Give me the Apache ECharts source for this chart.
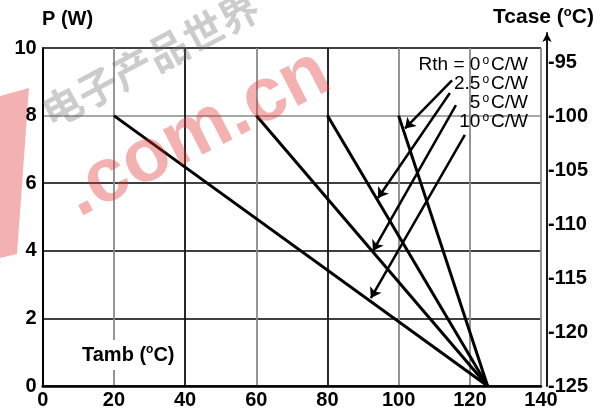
<!DOCTYPE html>
<html>
<head>
<meta charset="utf-8">
<script src="https://cdn.jsdelivr.net/npm/echarts@6/dist/echarts.min.js"></script>
<style>html,body{margin:0;padding:0;background:#fff}#c{width:604px;height:414px}</style>
</head>
<body>
<div id="c"></div>
<script>
// ---- data ----
const rthValues = ['0', '2.5', '5', '10'];
const startTamb = [100, 80, 60, 20];
const startPower = [8, 8, 8, 8];
const endTamb = [125, 125, 125, 125];
const endPower = [0, 0, 0, 0];
const tambTicks = [0, 20, 40, 60, 80, 100, 120, 140];
const powerTicks = [0, 2, 4, 6, 8, 10];
const tcaseTicks = [-125, -120, -115, -110, -105, -100, -95];
// annotation arrows (label -> curve), in data coords [Tamb, P]
const arrowFrom = [[115, 9.04], [114.4, 8.67], [116.1, 8.31], [118.6, 7.43]];
const arrowTo = [[101.8, 7.62], [94.2, 5.56], [92.8, 4.0], [92.2, 2.6]];

const FONT = 'Liberation Sans, Arial, sans-serif';
const chart = echarts.init(document.getElementById('c'), null, {renderer: 'canvas'});

const series = rthValues.map((r, i) => ({
  name: r + ' °C/W',
  type: 'line',
  xAxisIndex: 0, yAxisIndex: 0,
  data: [[startTamb[i], startPower[i]], [endTamb[i], endPower[i]]],
  symbol: 'none',
  lineStyle: {color: '#000', width: 3},
  z: 3,
  silent: true
}));
series.push({
  type: 'line', xAxisIndex: 0, yAxisIndex: 0, data: [], symbol: 'none', silent: true,
  markLine: {
    silent: true,
    symbol: ['none', 'arrow'],
    symbolSize: 10,
    label: {show: false},
    emphasis: {disabled: true},
    lineStyle: {color: '#000', width: 2.5, type: 'solid'},
    data: arrowFrom.map((f, i) => [{coord: f}, {coord: arrowTo[i]}])
  },
  z: 4
});

const richLbl = {
  n: {fontFamily: FONT, fontSize: 19, color: '#000', lineHeight: 20},
  s: {fontFamily: FONT, fontSize: 12, color: '#000', lineHeight: 20, verticalAlign: 'top', padding: [0, 2, 0, 2]}
};
const labelY = [65, 84, 103, 122];
const labelTexts = rthValues.map((r, i) => (i === 0 ? '{n|Rth = ' + r + '}{s|o}{n|C/W}' : '{n|' + r + '}{s|o}{n|C/W}'));

const graphics = labelTexts.map((t, i) => ({
  type: 'text', right: 604 - 528, top: labelY[i] - 10, z: 10,
  style: {text: t, rich: richLbl, textAlign: 'right'}
}));

graphics.push(
  {type: 'text', left: 42, top: 9, z: 10,
   style: {text: 'P (W)', fontFamily: FONT, fontSize: 20, fontWeight: 'bold', fill: '#000'}},
  {type: 'text', left: 493, top: 6, z: 10,
   style: {text: '{b|Tcase (}{s|o}{b|C)}',
     rich: {b: {fontFamily: FONT, fontSize: 21, fontWeight: 'bold', color: '#000', lineHeight: 23},
            s: {fontFamily: FONT, fontSize: 13, fontWeight: 'bold', color: '#000', lineHeight: 23, verticalAlign: 'top'}}}},
  {type: 'text', left: 78, top: 340, z: 10,
   style: {text: '{b|Tamb (}{s|o}{b|C)}', backgroundColor: '#fff', padding: [4, 4, 4, 4],
     rich: {b: {fontFamily: FONT, fontSize: 20, fontWeight: 'bold', color: '#000', lineHeight: 22},
            s: {fontFamily: FONT, fontSize: 12, fontWeight: 'bold', color: '#000', lineHeight: 22, verticalAlign: 'top'}}}}
);

// watermark overlay
graphics.push(
  {type: 'polygon', z: 20, silent: true,
   shape: {points: [[0, 96], [29, 88], [17, 254], [0, 258]]},
   style: {fill: 'rgba(225,50,50,0.38)'}},
  {type: 'text', x: 52, y: 165, rotation: 27 * Math.PI / 180, z: 20, silent: true,
   style: {text: '.com.cn', fontFamily: FONT, fontSize: 76, fontWeight: 'bold', fill: 'rgba(225,50,50,0.38)'}},
  {type: 'text', x: 35, y: 98, rotation: 28 * Math.PI / 180, z: 20, silent: true,
   style: {text: '电子产品世界', fontFamily: 'Noto Sans CJK SC', fontSize: 40, fontWeight: 'bold', fill: 'rgba(110,110,110,0.35)'}}
);

const option = {
  animation: false,
  backgroundColor: '#fff',
  grid: [
    {left: 42.7, right: 63, top: 48, bottom: 28, containLabel: false},
    {left: 42.7, right: 57, top: 33, bottom: 28, containLabel: false}
  ],
  xAxis: [
    {gridIndex: 0, type: 'value', min: tambTicks[0], max: tambTicks[tambTicks.length - 1], interval: 20,
     axisLine: {show: true, onZero: false, lineStyle: {color: '#000', width: 2.5}},
     axisTick: {show: false},
     axisLabel: {color: '#000', fontFamily: FONT, fontSize: 20, fontWeight: 'bold', margin: 4},
     splitLine: {show: true, lineStyle: {color: ['#000', '#8a8a8a', '#111', '#8a8a8a', '#111', '#8a8a8a', '#8a8a8a', '#8a8a8a'], width: 1.8}}},
    {gridIndex: 1, type: 'value', min: 0, max: 140, show: false}
  ],
  yAxis: [
    {gridIndex: 0, type: 'value', min: powerTicks[0], max: powerTicks[powerTicks.length - 1], interval: 2,
     axisLine: {show: true, onZero: false, lineStyle: {color: '#000', width: 1.8}},
     axisTick: {show: false},
     axisLabel: {color: '#000', fontFamily: FONT, fontSize: 20, fontWeight: 'bold', margin: 6},
     splitLine: {show: true, lineStyle: {color: ['#000', '#000', '#000', '#000', '#8a8a8a', '#000'], width: 1.5}}},
    {gridIndex: 1, type: 'value', position: 'right', min: tcaseTicks[0], max: -92.3, interval: 5,
     axisLine: {show: true, onZero: false, lineStyle: {color: '#000', width: 1.8}, symbol: ['none', 'arrow'], symbolSize: [7, 9]},
     axisTick: {show: false},
     axisLabel: {color: '#000', fontFamily: FONT, fontSize: 20, fontWeight: 'bold', margin: 1,
       showMaxLabel: false,
       formatter: (v) => (tcaseTicks.indexOf(v) >= 0 ? String(v) : '')},
     splitLine: {show: false}}
  ],
  series: series,
  graphic: graphics
};
chart.setOption(option);
</script>
</body>
</html>
